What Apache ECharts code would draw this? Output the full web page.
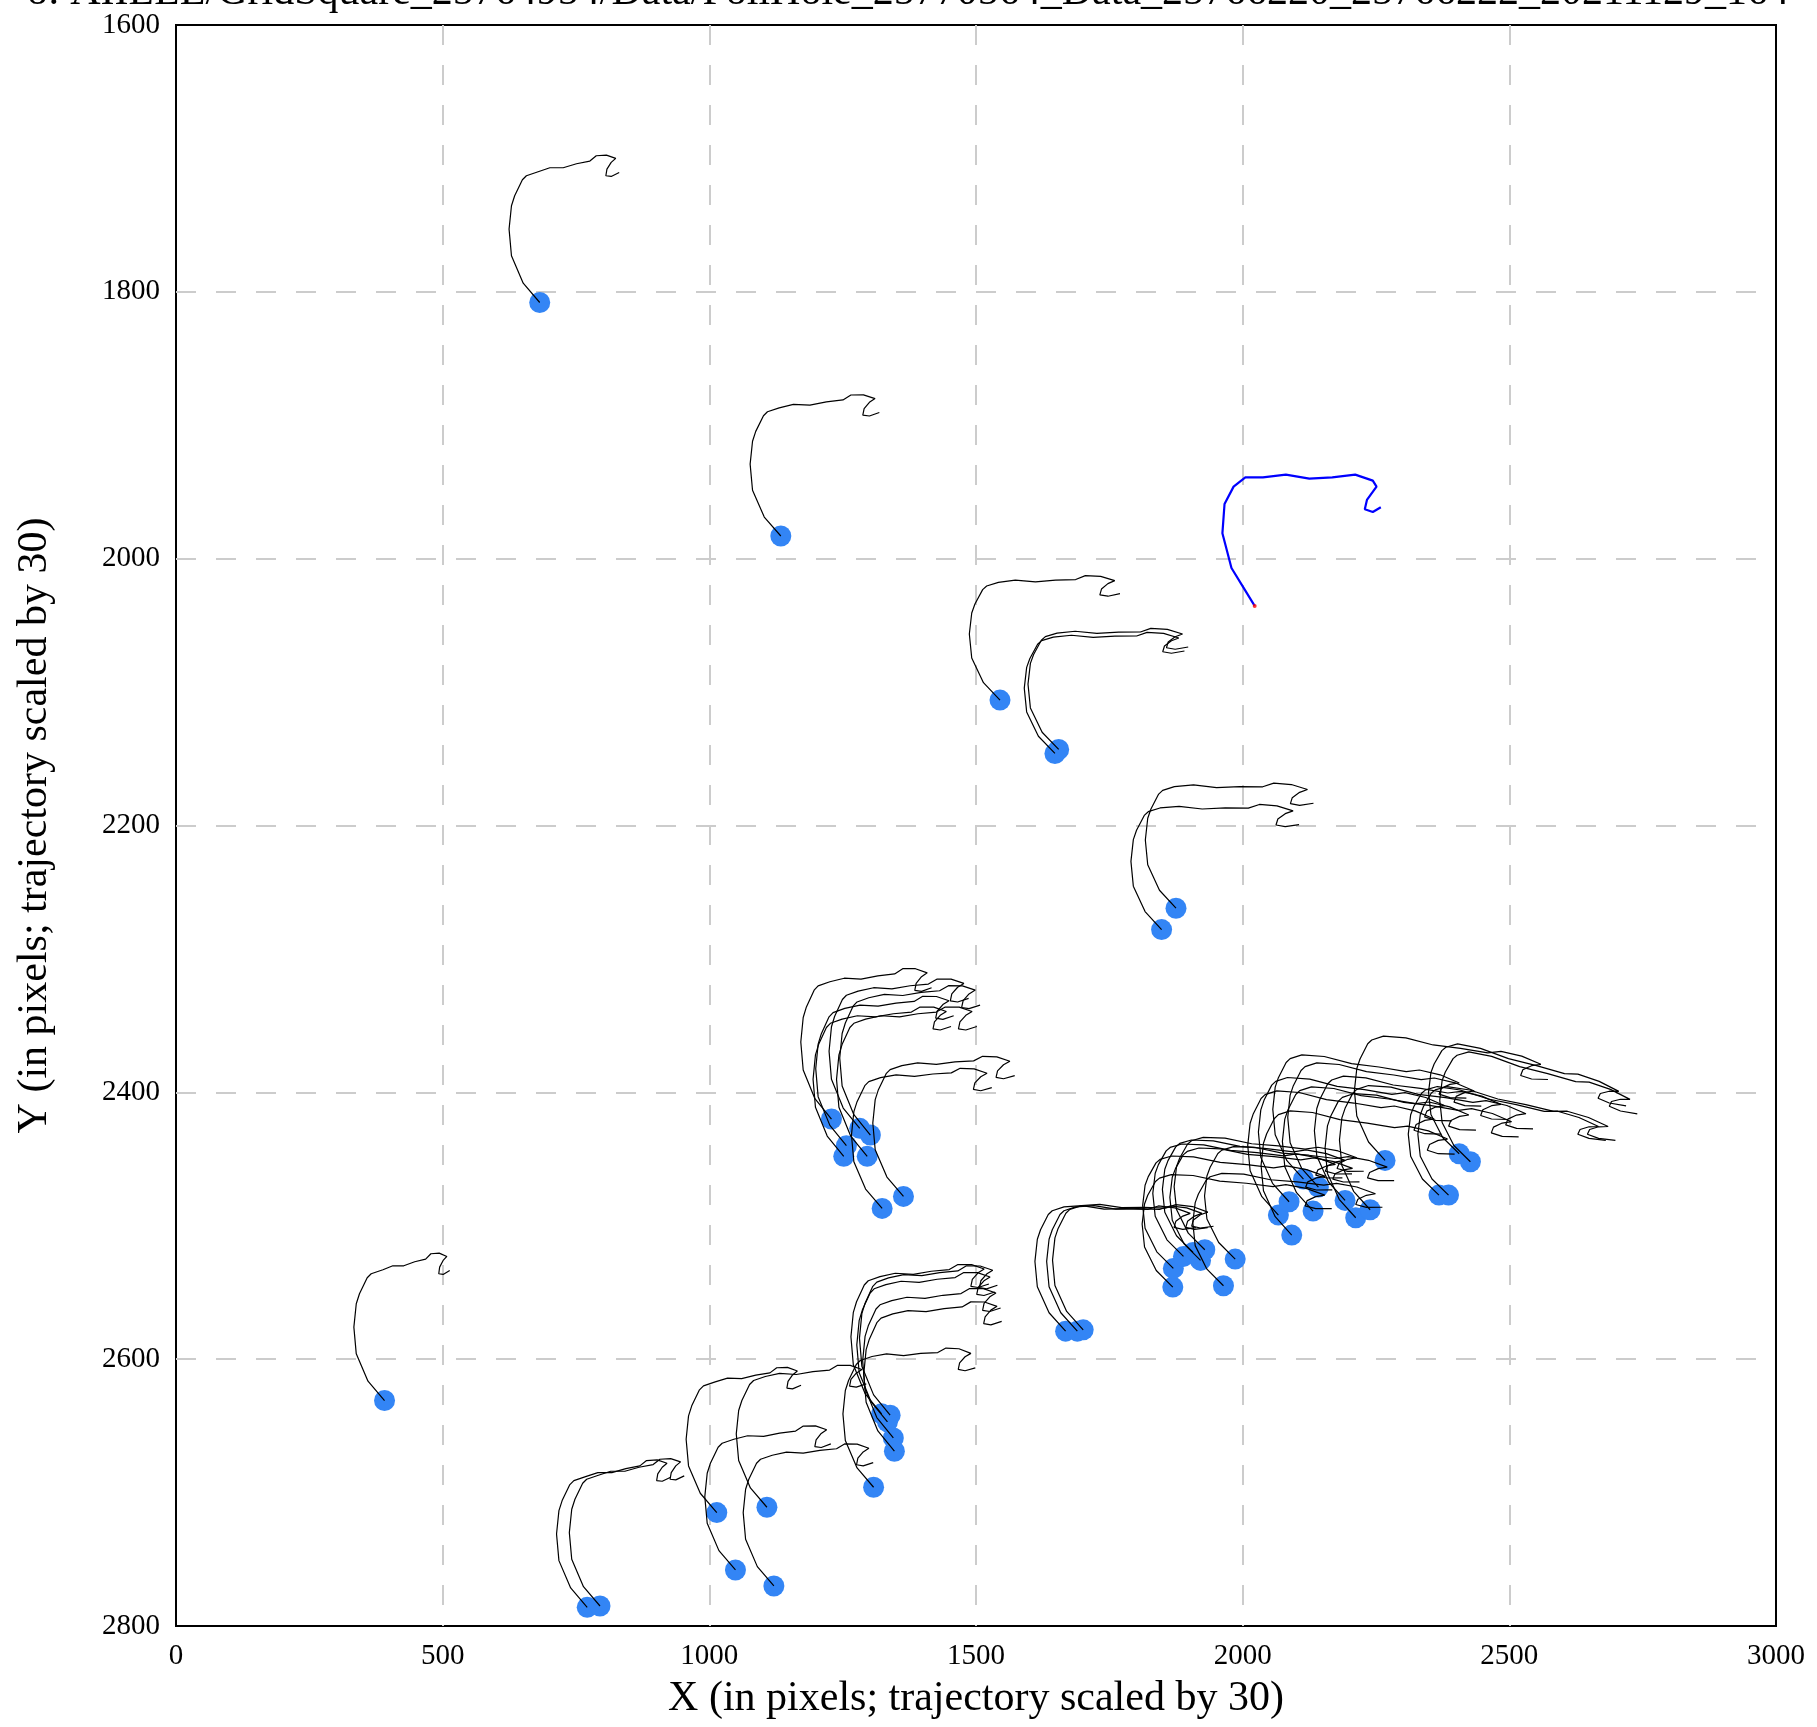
<!DOCTYPE html>
<html>
<head>
<meta charset="utf-8">
<script src="https://cdn.jsdelivr.net/npm/echarts@6/dist/echarts.min.js"></script>
<style>
html, body { margin: 0; padding: 0; background: #fff; }
#main { width: 1817px; height: 1727px; }
</style>
</head>
<body>
<div id="main"></div>
<script>
var titleText = 'o: AIILLE/GridSquare_25764954/Data/FoilHole_25770564_Data_25766220_25766222_20211129_164';
var xName = 'X (in pixels; trajectory scaled by 30)';
var yName = 'Y (in pixels; trajectory scaled by 30)';

// start position of every tracked point (blue dots)
var trackX = [682, 1134, 1545, 1648, 1655, 1848, 1875, 391,
	1229, 1282, 1302, 1257, 1252, 1296, 1364, 1324,
	1323, 1339, 1334, 1345, 1347, 1308,
	771, 795, 1014, 1049, 1108, 1121,
	1668, 1690, 1701,
	1869, 1870, 1889, 1907, 1929, 1921, 1986, 1964,
	2067, 2087, 2092, 2114, 2142, 2132, 2192, 2212, 2239, 2267,
	2406, 2427, 2368, 2386];
var trackY = [1808, 1983, 2106, 2146, 2143, 2278, 2262, 2631,
	2420, 2427, 2432, 2440, 2448, 2448, 2478, 2487,
	2641, 2642, 2647, 2659, 2669, 2696,
	2786, 2785, 2715, 2758, 2711, 2770,
	2579, 2579, 2578,
	2546, 2532, 2523, 2520, 2518, 2526, 2525, 2545,
	2492, 2482, 2507, 2465, 2471, 2489, 2481, 2494, 2488, 2451,
	2446, 2452, 2477, 2477];
// how far each trajectory reaches right / up, and how much its end drops, compared with the common shape
var trackKx = [1.0, 1.24, 1.51, 1.63, 1.63, 1.73, 1.73, 0.82,
	1.26, 1.37, 1.38, 1.35, 1.35, 1.38, 1.4, 1.38,
	1.35, 1.35, 1.35, 1.35, 1.35, 1.28,
	1.05, 1.06, 1.06, 1.2, 1.25, 1.25,
	1.64, 1.64, 1.64,
	2.0, 2.0, 2.0, 2.0, 2.0, 2.0, 2.0, 2.0,
	2.05, 2.05, 2.05, 2.05, 2.05, 2.05, 2.05, 2.05, 2.05, 2.05,
	2.1, 2.1, 2.1, 2.1];
var trackKy = [1.0, 0.98, 0.9, 0.89, 0.89, 0.93, 0.93, 1.0,
	1.05, 1.05, 1.05, 1.05, 1.05, 1.05, 1.0, 1.0,
	1.05, 1.05, 1.05, 1.05, 1.05, 1.0,
	1.0, 1.0, 1.0, 1.0, 1.0, 1.0,
	0.95, 0.95, 0.95,
	0.86, 0.86, 0.86, 0.86, 0.86, 0.86, 0.86, 0.86,
	0.95, 0.95, 0.95, 0.95, 0.95, 0.95, 0.95, 0.95, 0.95, 0.95,
	0.84, 0.84, 0.83, 0.83];
var trackSag = [0, 3, 8, 10, 10, 12, 12, 0,
	4, 5, 5, 5, 5, 5, 7, 7,
	5, 5, 5, 5, 5, 8,
	0, 0, 2, 3, 5, 5,
	15, 15, 15,
	25, 25, 25, 25, 25, 25, 25, 25,
	32, 32, 32, 32, 32, 32, 32, 32, 32, 32,
	46, 46, 40, 40];

// common trajectory shape, offsets from the start point
var pathDx = [0, -31, -53, -57.5, -53, -47, -32.5, -25, -3, 19, 44, 69, 94, 106, 125, 142.5, 134, 126, 124, 134, 149];
var pathDy = [0, -14.5, -35, -55, -72.5, -80, -92, -95, -98, -101, -101, -104, -106, -110, -110.5, -108, -105, -100, -95, -94.5, -97.5];

// highlighted trajectory
var blueX = [2022.5, 2005, 1979, 1962, 1966, 1983, 2005, 2038, 2081, 2125, 2168, 2211, 2244, 2251, 2233, 2229, 2244, 2259];
var blueY = [2035.4, 2024, 2007, 1981, 1959, 1946, 1939, 1939, 1937, 1940, 1939, 1937, 1941.5, 1946, 1956, 1963, 1965, 1961.5];

var chart = echarts.init(document.getElementById('main'));

var series = [];
series.push({
	type: 'scatter',
	data: trackX.map(function(x, i){ return [x, trackY[i]]; }),
	symbolSize: 21,
	itemStyle: {color: '#3385f5', opacity: 1},
	z: 2
});
trackX.forEach(function(x0, i){
	var pts = pathDx.map(function(dx, j){
		var px = x0 + (dx > 0 ? dx * trackKx[i] : dx);
		var py = trackY[i] + pathDy[j] * trackKy[i] + (dx > 0 ? dx / 149 * trackSag[i] : 0);
		return [px, py];
	});
	series.push({
		type: 'line',
		data: pts,
		showSymbol: false,
		lineStyle: {color: '#000', width: 1.2},
		z: 3
	});
});
series.push({
	type: 'line',
	data: blueX.map(function(x, i){ return [x, blueY[i]]; }),
	showSymbol: false,
	lineStyle: {color: '#0000ff', width: 2.2},
	z: 4
});
series.push({
	type: 'scatter',
	data: [[blueX[0], blueY[0]]],
	symbolSize: 4,
	itemStyle: {color: '#ff0000'},
	z: 5
});

var labelFont = {color: '#000', fontFamily: 'Liberation Serif', fontSize: 29, formatter: function(v){ return String(v); }};
var gridLines = {show: true, showMinLine: false, showMaxLine: false, lineStyle: {color: '#cccccc', width: 2, type: [20, 20]}};

var option = {
	animation: false,
	backgroundColor: '#fff',
	graphic: [{
		type: 'text',
		x: 908,
		y: -28,
		style: {
			text: titleText,
			font: '42px "Liberation Serif"',
			fill: '#000',
			textAlign: 'center',
			textVerticalAlign: 'top'
		}
	}],
	grid: {
		left: 176,
		right: 41,
		top: 25,
		bottom: 101,
		show: true,
		borderColor: '#000',
		borderWidth: 2,
		backgroundColor: 'transparent'
	},
	xAxis: {
		type: 'value',
		min: 0,
		max: 3000,
		interval: 500,
		name: xName,
		nameLocation: 'middle',
		nameGap: 52,
		nameTextStyle: {color: '#000', fontFamily: 'Liberation Serif', fontSize: 42},
		axisLine: {show: false},
		axisTick: {show: false},
		axisLabel: Object.assign({margin: 16}, labelFont),
		splitLine: gridLines
	},
	yAxis: {
		type: 'value',
		inverse: true,
		min: 1600,
		max: 2800,
		interval: 200,
		name: yName,
		nameLocation: 'middle',
		nameGap: 120,
		nameTextStyle: {color: '#000', fontFamily: 'Liberation Serif', fontSize: 42},
		axisLine: {show: false},
		axisTick: {show: false},
		axisLabel: Object.assign({margin: 16}, labelFont),
		splitLine: gridLines
	},
	series: series
};
chart.setOption(option);
</script>
</body>
</html>
